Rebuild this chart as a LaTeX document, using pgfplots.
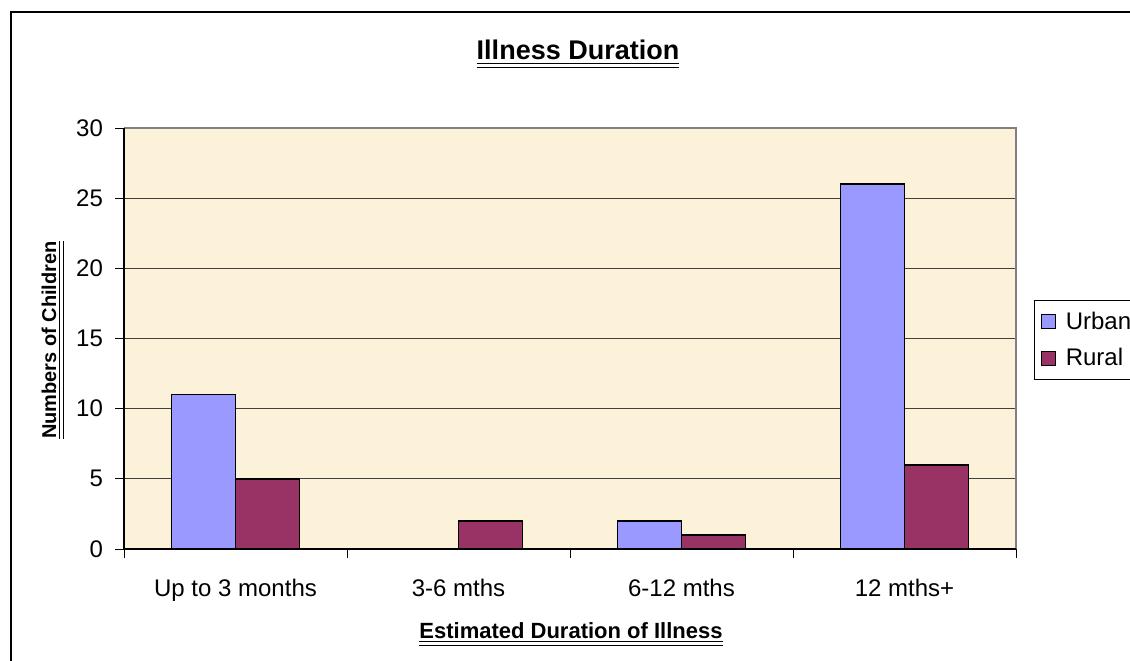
\documentclass[border=0pt]{standalone}
\usepackage{pgfplots}
\pgfplotsset{compat=1.18}
\usepackage{fontspec}
\setmainfont{Liberation Sans}
\definecolor{urban}{RGB}{153,153,255}
\definecolor{rural}{RGB}{153,51,102}
\definecolor{plotbg}{RGB}{252,242,218}
\newcommand\dul[1]{\underline{\underline{#1}}}
\begin{document}
\begin{tikzpicture}
\useasboundingbox (0,0) rectangle (565pt,330pt);
\draw[line width=1pt] (5.5pt,-20pt) -- (5.5pt,324pt) -- (600pt,324pt);
\begin{axis}[
  at={(62pt,55.5pt)}, anchor=south west,
  scale only axis, width=446pt, height=210.5pt,
  xmin=-0.5, xmax=3.5, ymin=0, ymax=30,
  ytick={0,5,...,30},
  xtick={0,1,2,3},
  xticklabels={Up to 3 months, 3-6 mths, 6-12 mths, 12 mths+},
  minor xtick={-0.5,0.5,1.5,2.5,3.5},
  major x tick style={draw=none},
  tick align=outside,
  major tick length=4.5pt, minor tick length=4.5pt,
  xtick pos=bottom, ytick pos=left,
  ymajorgrids, grid style={black!75, line width=0.5pt},
  axis line style={draw=none},
  axis background/.style={fill=plotbg},
  tick style={black, line width=0.5pt},
  /pgf/number format/assume math mode=true,
  ticklabel style={font=\fontsize{12}{14}\selectfont},
  yticklabel style={xshift=-2.5pt},
  xticklabel style={yshift=-7pt},
  ybar, bar width=0.287,
  legend image code/.code={\draw[#1, line width=0.6pt] (0pt,-3.5pt) rectangle (7pt,3.5pt); \path (10pt,0pt);},
  legend style={at={(1.0202,0.591)}, anchor=north west, draw=black, line width=0.5pt,
    fill=white, font=\fontsize{12}{14}\selectfont, inner xsep=3pt, inner ysep=3.5pt,
    row sep=4pt, legend cell align=left},
  after end axis/.code={
    \draw[black!50, line width=0.7pt] (rel axis cs:0,1) -- (rel axis cs:1,1) -- (rel axis cs:1,0);
    \draw[black, line width=0.7pt] (rel axis cs:0,1) -- (rel axis cs:0,0) -- (rel axis cs:1,0);
  },
]
\addplot[fill=urban, draw=black, line width=0.7pt, bar shift=-0.1435] coordinates {(0,11) (1,0) (2,2) (3,26)};
\addplot[fill=rural, draw=black, line width=0.7pt, bar shift=0.1435] coordinates {(0,5) (1,2) (2,1) (3,6)};
\legend{Urban, Rural}
\end{axis}
\node[anchor=base, inner sep=0pt, font=\fontsize{13.5}{16}\selectfont\bfseries] at (289pt,300pt) {\dul{Illness Duration}};
\node[anchor=base, inner sep=0pt, font=\fontsize{11}{13}\selectfont\bfseries] at (285.5pt,11pt) {\dul{Estimated Duration of Illness}};
\node[anchor=base, inner sep=0pt, rotate=90, font=\fontsize{10}{12}\selectfont\bfseries] at (28pt,160pt) {\dul{Numbers of Children}};
\end{tikzpicture}
\end{document}
